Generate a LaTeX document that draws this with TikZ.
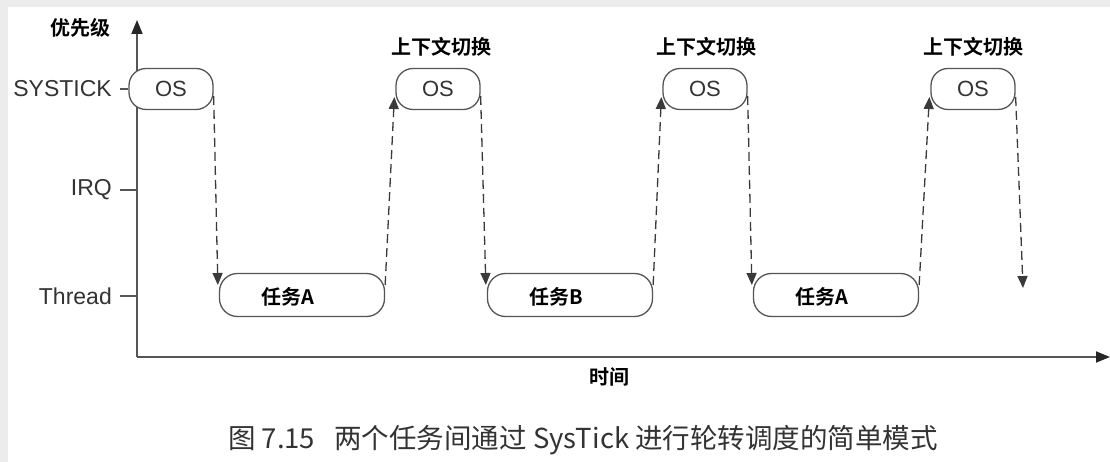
\documentclass[tikz,border=0pt]{standalone}
\usepackage{fontspec}
\setmainfont{Liberation Sans}
\newfontfamily\cjk{Noto Sans CJK SC}
\newfontfamily\cjkb{Noto Sans CJK SC Bold}
\usetikzlibrary{arrows.meta,calc}
\definecolor{linec}{HTML}{555555}
\definecolor{dashc}{HTML}{3A3A3A}
\definecolor{txtc}{HTML}{333333}
\definecolor{framec}{HTML}{ECECEC}
\tikzset{
  lab/.style={font=\fontsize{23}{25}\selectfont, text=txtc, inner sep=0pt},
  cjklab/.style={font=\cjkb\fontsize{20}{22}\selectfont, text=black, inner sep=0pt},
  osbox/.style={draw=linec, line width=1.3pt, fill=white, rounded corners=17pt,
     minimum width=84pt, minimum height=41pt, inner sep=0pt, font=\fontsize{22}{24}\selectfont, text=txtc},
  taskbox/.style={draw=linec, line width=1.3pt, fill=white, rounded corners=18pt,
     minimum width=165pt, minimum height=43pt, inner sep=0pt},
  axis/.style={draw=linec, line width=1.8pt, -{Triangle[length=14pt,width=11pt,color=black!85]}},
  tick/.style={draw=linec, line width=1.3pt},
  dasharrow/.style={draw=dashc, line width=1.3pt, dash pattern=on 9pt off 5pt,
     -{Triangle[length=12pt,width=10pt]}}
}
\begin{document}
\begin{tikzpicture}[x=1pt,y=-1pt]
% background with gray frame strips
\fill[framec] (0,0) rectangle (1110,462);
\fill[white] (8,7) rectangle (1110,462);
\useasboundingbox (0,0) rectangle (1110,462);

% axes
\coordinate (o) at (137,357);
\coordinate (ytop) at (137,20);
\coordinate (xend) at (1110,357);
\draw[axis] (o) -- (ytop);
\draw[axis] (o) -- (xend);
\node[cjklab] (ylab) at (80,28) {优先级};
\node[cjklab] (xlab) at (609,377) {时间};

% level labels and ticks
\node[lab, anchor=east] (lsys) at (112,89) {SYSTICK};
\node[lab, anchor=east] (lirq) at (112,190) {IRQ};
\node[lab, anchor=east] (lthr) at (112,296) {Thread};
\coordinate (tsys) at (120,89);
\coordinate (tirq) at (120,190);
\coordinate (tirq2) at (137,190);
\coordinate (tthr) at (120,296);
\coordinate (tthr2) at (137,296);

% OS boxes
\node[osbox] (os1) at (171,89) {OS};
\node[osbox] (os2) at (438,89) {OS};
\node[osbox] (os3) at (705,89) {OS};
\node[osbox] (os4) at (973,89) {OS};
\draw[tick] (tsys) -- (os1.west);
\draw[tick] (tirq) -- (tirq2);
\draw[tick] (tthr) -- (tthr2);

\node[cjklab] (cs2) at (441,47) {上下文切换};
\node[cjklab] (cs3) at (706,47) {上下文切换};
\node[cjklab] (cs4) at (973,47) {上下文切换};

% task boxes
\node[taskbox] (t1) at (302,295) {};
\node[taskbox] (t2) at (570,295) {};
\node[taskbox] (t3) at (836,295) {};
\node[cjklab] (t1l) at (288,297) {任务A};
\node[cjklab] (t2l) at (556,297) {任务B};
\node[cjklab] (t3l) at (822,297) {任务A};

% dashed transitions
\coordinate (fend) at (1023,288);
\draw[dasharrow] ($(os1.east)+(0,7)$) -- ($(t1.west)+(-1,-10)$);
\draw[dasharrow] ($(t1.east)+(0,-10)$) -- ($(os2.west)+(-1,8)$);
\draw[dasharrow] ($(os2.east)+(0,7)$) -- ($(t2.west)+(-1,-10)$);
\draw[dasharrow] ($(t2.east)+(0,-10)$) -- ($(os3.west)+(-1,8)$);
\draw[dasharrow] ($(os3.east)+(0,7)$) -- ($(t3.west)+(-1,-10)$);
\draw[dasharrow] ($(t3.east)+(0,-10)$) -- ($(os4.west)+(-1,8)$);
\draw[dasharrow] ($(os4.east)+(0,8)$) -- (fend);

% caption
\node[font=\cjk\fontsize{27.5}{29}\selectfont, text=txtc, inner sep=0pt] (cap) at (583,440)
  {图 7.15\hspace{0.7em}两个任务间通过 SysTick 进行轮转调度的简单模式};
\end{tikzpicture}
\end{document}
